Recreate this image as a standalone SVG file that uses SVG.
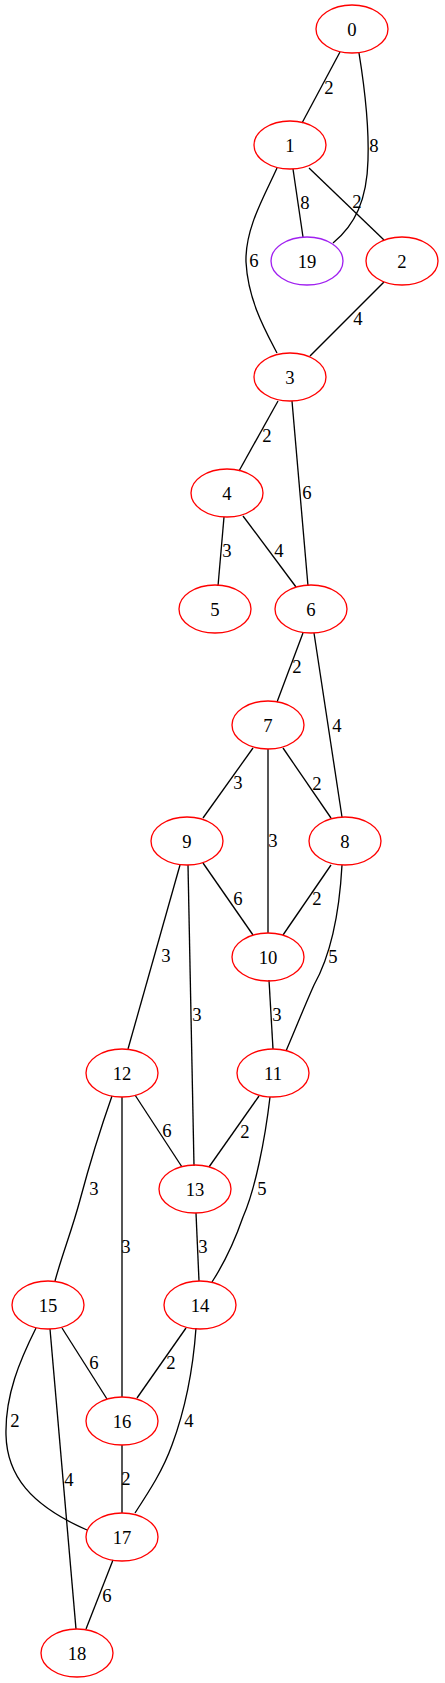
<svg xmlns="http://www.w3.org/2000/svg" width="445" height="1683" viewBox="0 0 445 1683">
<style>
.n ellipse{fill:none;stroke:#ff0000;stroke-width:1.33}
.p ellipse{stroke:#a020f0}
text{font-family:"Liberation Serif","Times New Roman",serif;font-size:18.67px;text-anchor:middle;fill:#000}
#edges path{fill:none;stroke:#000;stroke-width:1.33}
</style>
<rect width="445" height="1683" fill="#fff"/>
<g id="edges">
<path d="M340,52 L302,123"/><text x="329" y="94">2</text>
<path d="M359,53 C365,90 369,130 368,160 C367,200 355,225 333,243"/><text x="374" y="152">8</text>
<path d="M293,169 L303,237"/><text x="305" y="209">8</text>
<path d="M309,168 L384,240"/><text x="357" y="208">2</text>
<path d="M277,168 C265,195 245,228 246,262 C248,300 265,330 277,353"/><text x="254" y="267">6</text>
<path d="M384,282 L310,356"/><text x="358" y="325">4</text>
<path d="M278,401 L239,471"/><text x="267" y="442">2</text>
<path d="M292,401 L308,586"/><text x="307" y="499">6</text>
<path d="M224,517 L218,586"/><text x="227" y="557">3</text>
<path d="M243,516 L296,587"/><text x="279" y="557">4</text>
<path d="M303,633 L277,702"/><text x="297" y="673">2</text>
<path d="M314,633 L342,817"/><text x="337" y="732">4</text>
<path d="M253,748 L203,818"/><text x="238" y="789">3</text>
<path d="M268,749 L268,933"/><text x="273" y="847">3</text>
<path d="M283,748 L331,818"/><text x="317" y="790">2</text>
<path d="M203,863 L253,935"/><text x="238" y="905">6</text>
<path d="M331,865 L283,935"/><text x="317" y="905">2</text>
<path d="M180,865 L128,1049"/><text x="166" y="962">3</text>
<path d="M188,865 L194,1166"/><text x="197" y="1021">3</text>
<path d="M342,865 C339,920 328,960 314,985 C305,1005 295,1030 286,1051"/><text x="333" y="963">5</text>
<path d="M269,980 L273,1049"/><text x="277" y="1021">3</text>
<path d="M135,1095 L182,1167"/><text x="167" y="1137">6</text>
<path d="M112,1096 C100,1130 88,1170 80,1200 C72,1230 62,1255 55,1281"/><text x="94" y="1195">3</text>
<path d="M122,1097 L122,1397"/><text x="126" y="1253">3</text>
<path d="M259,1096 L209,1167"/><text x="245" y="1138">2</text>
<path d="M270,1097 C265,1140 255,1190 243,1217 C235,1240 225,1262 212,1282"/><text x="262" y="1195">5</text>
<path d="M196,1213 L199,1281"/><text x="203" y="1253">3</text>
<path d="M62,1328 L107,1399"/><text x="94" y="1369">6</text>
<path d="M186,1328 L137,1398"/><text x="171" y="1369">2</text>
<path d="M36,1328 C20,1360 5,1395 6,1435 C7,1475 30,1505 87,1530"/><text x="15" y="1427">2</text>
<path d="M196,1328 C193,1370 185,1410 172,1445 C163,1470 150,1490 135,1513"/><text x="189" y="1427">4</text>
<path d="M50,1329 L76,1629"/><text x="69" y="1486">4</text>
<path d="M122,1445 L122,1513"/><text x="126" y="1485">2</text>
<path d="M113,1560 L86,1629"/><text x="107" y="1602">6</text>
</g>
<g id="n0" class="n"><ellipse cx="352" cy="29" rx="36" ry="24"/><text x="352" y="35.5">0</text></g>
<g id="n1" class="n"><ellipse cx="290" cy="145" rx="36" ry="24"/><text x="290" y="151.5">1</text></g>
<g id="n19" class="n p"><ellipse cx="307" cy="261" rx="36" ry="24"/><text x="307" y="267.5">19</text></g>
<g id="n2" class="n"><ellipse cx="402" cy="261" rx="36" ry="24"/><text x="402" y="267.5">2</text></g>
<g id="n3" class="n"><ellipse cx="290" cy="377" rx="36" ry="24"/><text x="290" y="383.5">3</text></g>
<g id="n4" class="n"><ellipse cx="227" cy="493" rx="36" ry="24"/><text x="227" y="499.5">4</text></g>
<g id="n5" class="n"><ellipse cx="215" cy="609" rx="36" ry="24"/><text x="215" y="615.5">5</text></g>
<g id="n6" class="n"><ellipse cx="311" cy="609" rx="36" ry="24"/><text x="311" y="615.5">6</text></g>
<g id="n7" class="n"><ellipse cx="268" cy="725" rx="36" ry="24"/><text x="268" y="731.5">7</text></g>
<g id="n9" class="n"><ellipse cx="187" cy="841" rx="36" ry="24"/><text x="187" y="847.5">9</text></g>
<g id="n8" class="n"><ellipse cx="345" cy="841" rx="36" ry="24"/><text x="345" y="847.5">8</text></g>
<g id="n10" class="n"><ellipse cx="268" cy="957" rx="36" ry="24"/><text x="268" y="963.5">10</text></g>
<g id="n12" class="n"><ellipse cx="122" cy="1073" rx="36" ry="24"/><text x="122" y="1079.5">12</text></g>
<g id="n11" class="n"><ellipse cx="273" cy="1073" rx="36" ry="24"/><text x="273" y="1079.5">11</text></g>
<g id="n13" class="n"><ellipse cx="195" cy="1189" rx="36" ry="24"/><text x="195" y="1195.5">13</text></g>
<g id="n15" class="n"><ellipse cx="48" cy="1305" rx="36" ry="24"/><text x="48" y="1311.5">15</text></g>
<g id="n14" class="n"><ellipse cx="200" cy="1305" rx="36" ry="24"/><text x="200" y="1311.5">14</text></g>
<g id="n16" class="n"><ellipse cx="122" cy="1421" rx="36" ry="24"/><text x="122" y="1427.5">16</text></g>
<g id="n17" class="n"><ellipse cx="122" cy="1537" rx="36" ry="24"/><text x="122" y="1543.5">17</text></g>
<g id="n18" class="n"><ellipse cx="77" cy="1653" rx="36" ry="24"/><text x="77" y="1659.5">18</text></g>
</svg>
